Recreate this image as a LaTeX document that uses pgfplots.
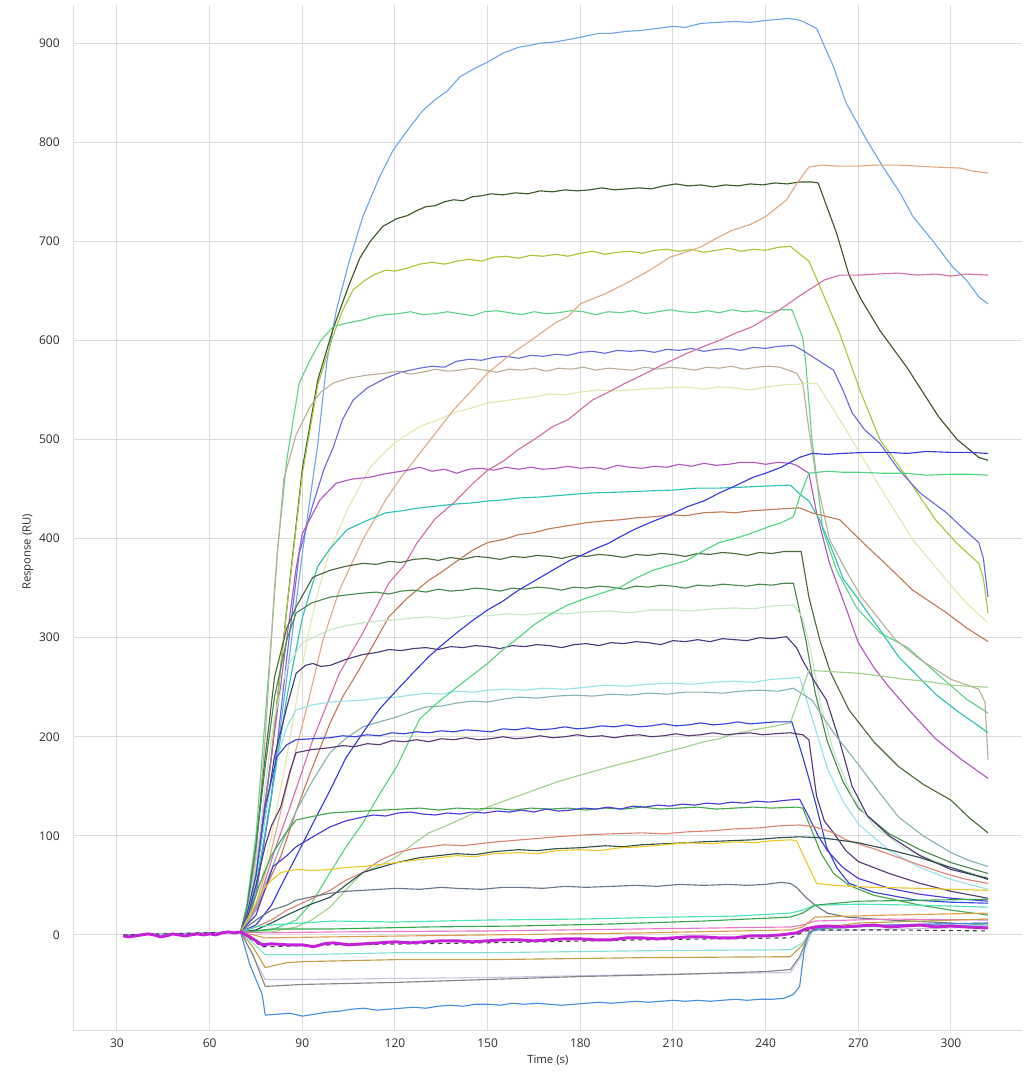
\documentclass[border=0pt]{standalone}
\usepackage{fontspec}
\setmainfont{Open Sans}
\usepackage{pgfplots}
\pgfplotsset{compat=1.18}
\definecolor{gridgray}{HTML}{DCDCDC}
\definecolor{labgray}{HTML}{303030}
\definecolor{cA}{HTML}{70A8EE}
\definecolor{cB}{HTML}{3E5A28}
\definecolor{cC}{HTML}{A8C838}
\definecolor{cD}{HTML}{62D48A}
\definecolor{cE}{HTML}{6B6BE8}
\definecolor{cF}{HTML}{BCB09A}
\definecolor{cG}{HTML}{E2E8AE}
\definecolor{cH}{HTML}{E4AA82}
\definecolor{cI}{HTML}{D86EAA}
\definecolor{cJ}{HTML}{B458C2}
\definecolor{cK}{HTML}{2CC4B4}
\definecolor{cL}{HTML}{C47C56}
\definecolor{cM}{HTML}{4E6A3C}
\definecolor{cN}{HTML}{4A8A50}
\definecolor{cO}{HTML}{C6E6C4}
\definecolor{cP}{HTML}{4E3A7E}
\definecolor{cQ}{HTML}{98E2EA}
\definecolor{cR}{HTML}{8AB4B4}
\definecolor{cS}{HTML}{A2D28E}
\definecolor{cT}{HTML}{52D682}
\definecolor{cU}{HTML}{3A3AE4}
\definecolor{cV}{HTML}{3444DC}
\definecolor{cW}{HTML}{5A3A78}
\definecolor{cX}{HTML}{44A84C}
\definecolor{cY}{HTML}{4A3ADC}
\definecolor{cZ}{HTML}{E08474}
\definecolor{da}{HTML}{2E5252}
\definecolor{db}{HTML}{F0C828}
\definecolor{dc}{HTML}{6A7888}
\definecolor{dd}{HTML}{4CE4B8}
\definecolor{de}{HTML}{38A850}
\definecolor{df}{HTML}{E878C8}
\definecolor{dg}{HTML}{D8A050}
\definecolor{dh}{HTML}{88E0D4}
\definecolor{di}{HTML}{C0A048}
\definecolor{dj}{HTML}{808888}
\definecolor{dk}{HTML}{C8C8E4}
\definecolor{dl}{HTML}{4A90E2}
\definecolor{dm}{HTML}{404040}
\definecolor{mag}{HTML}{C322D8}
\begin{document}
\begin{tikzpicture}
\begin{axis}[
 at={(0,0)}, anchor=south west,
 width=711.2pt, height=769.5pt, scale only axis,
 xmin=16, xmax=323, ymin=-97, ymax=938.6,
 xtick={30,60,...,300}, ytick={0,100,...,900},
 grid=major, major grid style={draw=gridgray, line width=0.75pt},
 axis x line*=bottom, axis y line*=left,
 axis line style={draw=gridgray, line width=0.75pt, -},
 major tick length=0pt,
 /pgf/number format/assume math mode=true,
 tick label style={font=\fontsize{9}{10}\selectfont, text=labgray},
 xticklabel style={yshift=-2.5pt},
 yticklabel style={xshift=-7pt},
 xlabel={Time (s)}, ylabel={Response (RU)},
 label style={font=\fontsize{8.5}{10}\selectfont, text=labgray},
 xlabel style={at={(axis description cs:0.5,-0.0283)}, anchor=center},
 ylabel style={at={(axis description cs:-0.0482,0.467)}, anchor=center},
 no markers,
 every axis plot/.append style={line width=0.85pt, line join=round},
 clip=true,
]
% large association curves
\addplot[cA] coordinates {(32,0)(70,3)(72,15)(75,45)(80,140)(85,260)(90,385)(95,495)(98,580)(101,630)(105,678)(109.6,725)(115,765)(119.4,792)(124,812)(129,832)(133,843)(137,852)(141,866)(146,875)(150,881)(155,890)(160,896)(164,898)(167,900)(171,901)(175,903)(180,906)(186,910)(190,910)(195,912)(200,913)(205,915)(210,917)(214,916)(219,920)(224,921)(230,922)(235,921)(240,923)(244,924)(247,925)(250,924)(252,922)(256.5,915)(262,876)(266,840)(272.8,802)(278,775)(283.5,749)(287.7,725)(294,701)(300.6,674)(305,661)(309,644)(312,637)};
\addplot[cB] coordinates {(70,3)(72,20)(75,60)(80,180)(85,330)(90,470)(95,560)(100,612)(105,655)(108.6,683)(112,700)(116,715)(120.6,723)(124,726)(127,731)(130,735)(133,736)(136,740)(139,742)(142,741)(145,745)(148,746)(151,748)(155,747)(159,749)(163,748)(167,751)(171,750)(175,752)(179,751)(183,752)(187,754)(191,752)(195,753)(199,754)(203,753)(207,756)(211,758)(215,756)(219,757)(223,755)(227,757)(231,756)(235,758)(239,757)(243,759)(247,758)(251,760)(255,760)(257,759)(263,708)(267,666)(271,641)(277,610)(285.7,573)(296,523)(302,500)(309,482)(312,479)};
\addplot[cC] coordinates {(70,3)(72,20)(75,60)(80,180)(85,330)(90,465)(95,555)(100,605)(103,630)(106.4,651)(110,660)(113,666)(117,671)(120,670)(124,673)(128,677)(132,679)(136,677)(140,680)(144,682)(148,680)(152,684)(156,685)(160,683)(164,686)(168,685)(172,687)(176,685)(180,688)(184,690)(188,687)(192,689)(196,690)(200,688)(204,691)(208,692)(212,690)(216,692)(220,689)(224,691)(228,693)(232,690)(236,692)(240,691)(244,694)(248,695)(250,690)(254,680)(257.5,655)(264,607)(270.5,550)(277,500)(285.7,462)(295,419)(302,395)(309,375)(310.5,360)(312,325)};
\addplot[cD] coordinates {(70,3)(72,30)(75,100)(78,220)(80,300)(82,389)(85,480)(89,557)(92.5,580)(96,600)(100,614)(105,618)(110,621)(113,624)(117,626)(121,627)(125,629)(129,626)(133,627)(137,629)(141,627)(145,625)(149,629)(153,630)(157,628)(161,626)(165,629)(169,627)(173,628)(177,630)(181,629)(185,626)(189,629)(193,628)(197,630)(201,627)(205,629)(209,631)(213,629)(217,628)(221,630)(225,628)(229,631)(233,629)(237,630)(241,628)(245,631)(248.5,631)(252,603)(253,577)(255,500)(258.5,409)(263,368)(269.5,330)(277,305)(286,290)(295,265)(305,238)(312,224)};
\addplot[cE] coordinates {(70,3)(75,40)(80,140)(85,280)(89,385)(93,430)(97,470)(100,492)(103,520)(106.5,540)(111,552)(117,562)(122,568)(128,572)(132,574)(136,573)(140,579)(144,581)(148,580)(152,583)(156,584)(160,582)(164,585)(168,584)(172,586)(176,585)(180,588)(184,589)(188,587)(192,590)(196,589)(200,590)(204,588)(208,591)(212,590)(216,592)(220,589)(224,591)(228,592)(232,590)(236,593)(240,592)(244,594)(249,595)(252,590)(257,580)(262,570)(265,550)(268,527)(272,510)(277,496)(283,470)(290,446)(298.6,426)(304,410)(309,396)(310.5,380)(312,341)};
\addplot[cF] coordinates {(70,3)(72,20)(75,80)(78,200)(81,350)(84,460)(88,505)(92.5,533)(96,548)(100,557)(105,562)(111,565)(117,567)(121,569)(125,566)(129,568)(133,571)(137,569)(141,570)(145,572)(149,570)(153,568)(157,571)(161,570)(165,572)(169,569)(173,572)(177,571)(181,573)(185,570)(189,572)(193,571)(197,570)(201,573)(205,571)(209,573)(213,572)(217,570)(221,573)(225,572)(229,574)(233,571)(237,573)(241,574)(244.6,573)(250,567)(252,557)(254,510)(256.5,459)(260.7,399)(266,368)(271,341)(282,298)(290,278)(300,258)(309,248)(311,235)(312,177)};
\addplot[cG] coordinates {(70,3)(75,30)(80,100)(85,180)(91.5,298)(95,345)(99,389)(105,432)(112,472)(116,485)(120,497)(124,505)(128,513)(134,520)(140,528)(145,532)(150,537)(155,539)(160,541)(165,543)(170,546)(175,545)(180,548)(186,550)(192,549)(200,551)(207,552)(214.5,553)(220,551)(225,553)(230,552)(235,550)(240,553)(245,555)(251,556)(256.5,557)(260,540)(266,510)(277,452)(287.6,399)(298.6,358)(305,335)(312,315)};
\addplot[cH] coordinates {(70,3)(75,30)(79.5,79)(86,163)(91.5,230)(96.7,298)(102,348)(109.6,399)(117,439)(122,462)(128,486)(133,506)(139,530)(145,550)(150,567)(157,585)(164,600)(172,618)(176,624)(180,637)(188,647)(195,658)(202,670)(209,684)(214,689)(218.7,694)(224,703)(229,711)(235,717)(240,725)(246.8,742)(250,758)(254,775)(258,777)(263,776)(270,776)(276,777)(283,777)(289,776)(295,775)(303,774)(307,771)(312,769)};
\addplot[cI] coordinates {(70,3)(73,15)(77,45)(81,85)(86,129)(93.4,197)(102,264)(109.6,305)(118,355)(123,373)(127,395)(133,420)(139,436)(145,455)(150,469)(155,478)(160,490)(166,502)(171,513)(176,520)(180,530)(184,540)(188.6,547)(194,556)(200,565)(207,576)(214.5,587)(220,594)(225,600)(230,607)(235.8,614)(240,622)(244.6,631)(251,645)(255,653)(259,661)(264,666)(270,666)(276,667)(283,668)(289,666)(295,667)(300,665)(305,667)(312,666)};
\addplot[cJ] coordinates {(70,3)(72,20)(75,70)(80,180)(85,300)(88,370)(90,405)(95.7,439)(101,456)(106,460)(112,462)(116,465)(120,467)(124,469)(128,472)(132,468)(136,470)(140,466)(144,470)(148,471)(152,469)(156,472)(160,470)(164,472)(168,470)(172,471)(176,473)(180,471)(184,472)(188,470)(192,474)(196,472)(200,471)(204,473)(208,472)(212,475)(216,473)(220,476)(224,474)(228,475)(232,477)(236,477)(240,475)(244,477)(248,476)(250,474)(254,466)(256.5,426)(260.7,375)(266,330)(270,295)(275,270)(280,250)(287,225)(295,198)(303,178)(312,158)};
\addplot[cK] coordinates {(70,3)(72,20)(75,50)(80,140)(85,240)(90,320)(95,372)(99,390)(104.5,409)(110,417)(117,426)(122,428)(128,431)(134,433)(140,435)(145,436)(150,438)(155,439)(160,441)(167,442)(175,444)(183,446)(193,447)(201,448)(210,449)(218,451)(225,451)(233,452)(240,453)(248,454)(251,445)(254,438)(257.5,419)(262,385)(265,360)(269.5,341)(277,308)(283,281)(289,262)(295,243)(302,226)(308,213)(312,204)};
\addplot[cL] coordinates {(70,3)(75,25)(80,60)(83,79)(88,125)(92.5,163)(99,214)(103,240)(107.7,264)(113,293)(118,321)(124,340)(131,358)(135,366)(139,375)(145,388)(150,396)(155,399)(160,404)(165,406)(170,410)(176,413)(182,416)(188,418)(193,419)(198,421)(203.5,422)(210,424)(214,423)(219.6,426)(226,427)(230,426)(235,428)(240,429)(245,430)(251,431)(255,426)(264,419)(271.5,396)(280,371)(287.6,348)(298.6,325)(305,310)(312,296)};
\addplot[cM] coordinates {(70,3)(72,25)(75,90)(78,180)(81,260)(85,310)(88,331)(93.4,361)(99,368)(104,372)(109.6,375)(114,374)(118,377)(122,376)(126,379)(130,380)(134,378)(138,381)(142,379)(146,382)(150,381)(154,379)(158,382)(162,381)(166,383)(170,382)(174,380)(178,383)(182,382)(186,384)(190,383)(194,381)(198,384)(202,383)(206,385)(210,384)(214,382)(218,385)(222,384)(226,386)(230,385)(234,383)(238,386)(242,385)(246,387)(251.5,387)(254,341)(257.5,298)(261,265)(267,227)(275,195)(283,170)(291,152)(300,136)(306,118)(312,103)};
\addplot[cN] coordinates {(70,3)(72,25)(75,90)(78,170)(81,240)(85,298)(88,325)(93,335)(99,341)(104,343)(109.6,345)(114,346)(118,344)(122,347)(126,348)(130,346)(134,349)(138,347)(142,348)(146,350)(150,349)(154,347)(158,350)(162,349)(166,351)(170,350)(174,348)(178,351)(182,350)(186,352)(190,351)(194,349)(198,352)(202,351)(206,353)(210,352)(214,350)(218,353)(222,352)(226,354)(230,353)(234,352)(238,354)(242,353)(246,355)(249,355)(253,298)(256,245)(260,195)(265,155)(270,128)(280,102)(290,86)(300,73)(312,62)};
\addplot[cO] coordinates {(70,3)(72,20)(75,70)(78,150)(81,220)(85,270)(90,295)(99,308)(104,312)(110,315)(115,317)(120.6,318)(126,320)(131,321)(137,319)(143,322)(150,322)(156,324)(162,323)(168,325)(175,324)(182,326)(190,327)(196,325)(203,328)(210,328)(216,327)(223,329)(230,330)(236,329)(242,332)(249,333)(252,320)(255,280)(258,230)(262,185)(268,140)(275,110)(285,87)(300,68)(312,58)};
\addplot[cP] coordinates {(70,3)(72,15)(75,60)(78,120)(81,180)(85,230)(88,264)(91,272)(93.4,274)(96,271)(99,272)(104,278)(109.6,283)(114,285)(118,288)(122,287)(126,289)(130,290)(134,288)(138,291)(142,290)(146,292)(150,291)(154,289)(158,292)(162,291)(166,293)(170,292)(174,290)(178,293)(182,294)(186,292)(190,295)(194,294)(198,296)(202,295)(206,293)(210,297)(214,296)(218,298)(222,296)(226,299)(230,298)(234,297)(238,300)(242,299)(246.8,301)(250,290)(252,277)(256,255)(259.7,237)(264,195)(268,150)(273,120)(280,100)(290,80)(300,66)(312,57)};
\addplot[cQ] coordinates {(70,3)(72,15)(75,60)(78,120)(81,170)(85,210)(88,227)(93,232)(99,235)(104,236)(109.6,237)(115,239)(120.6,240)(125,242)(130,244)(135,243)(140,246)(145,245)(150,247)(156,248)(162,247)(168,249)(175,248)(182,250)(188,252)(195,251)(202,253)(210,254)(216,253)(223,255)(230,256)(236,255)(242,258)(248,259)(251,260)(253,240)(256.5,204)(260,168)(265,135)(270,112)(280,85)(290,68)(300,56)(312,46)};
\addplot[cR] coordinates {(70,3)(74,20)(78,50)(83,90)(88,125)(93.4,156)(99,184)(104,198)(109.6,210)(115,215)(120.6,220)(125,225)(130,230)(135,231)(140,234)(145,236)(150,235)(155,238)(160,240)(166,239)(172,241)(178,242)(184,241)(190,243)(196,242)(202,244)(208,243)(214,245)(220,245)(226,244)(232,246)(238,247)(244,246)(249,249)(255,237)(262,204)(270.5,170)(277,143)(283,119)(291,100)(300,83)(306,75)(312,69)};
\addplot[cS] coordinates {(70,3)(80,3)(88,8)(93,15)(99,28)(104,45)(109.6,63)(115,70)(120.6,79)(126,92)(131,103)(135,108)(140,115)(145,122)(150,129)(157,137)(165,146)(173,155)(182,163)(190,170)(200,178)(207,184)(214.5,190)(220,195)(225,198)(230,203)(236,207)(240,209)(245,212)(248,214)(251,240)(254,267)(260,266)(265,265)(270.5,264)(278,261)(285,258)(292,256)(300,252)(306,251)(312,250)};
\addplot[cT] coordinates {(70,3)(80,5)(88,15)(93,32)(99,63)(104,88)(109.6,113)(115,142)(120.6,170)(128,218)(134,235)(140,250)(145,262)(150,274)(155,288)(160,300)(165,313)(171,325)(176,333)(182,340)(188,346)(193,351)(198,360)(203.5,368)(209,373)(214.5,378)(220,388)(225,396)(230,400)(235,405)(241,412)(245,416)(249,422)(251,442)(254,466)(260,468)(265,467)(270,467)(278,466)(285,466)(292,464)(300,465)(306,465)(312,464)};
\addplot[cU] coordinates {(70,3)(75,10)(80,30)(84,55)(88,79)(93,110)(99,146)(104,178)(109.6,204)(115,228)(120.6,247)(126,265)(131,281)(135,292)(140,305)(145,317)(150,328)(155,337)(160,348)(165,357)(171,368)(176.6,378)(181,384)(185,390)(189,395)(193,402)(198,410)(204,418)(209,424)(214.5,432)(220,438)(225,446)(230,453)(236,462)(240,466)(245,472)(248,477)(251,482)(255,486)(260,485)(265,486)(272,487)(280,487)(286,486)(292,488)(300,487)(306,487)(312,486)};
% lower curves
\addplot[cV] coordinates {(70,3)(72,20)(75,60)(78,130)(81.8,180)(85,192)(88,197)(99,199)(103,201)(107,200)(111,202)(115,201)(119,204)(123,203)(127,205)(131,204)(135,206)(139,205)(143,207)(147,206)(151,205)(155,208)(159,207)(163,209)(167,207)(171,208)(175,210)(179,208)(183,209)(187,211)(191,210)(195,212)(199,210)(203,211)(207,213)(211,211)(215,212)(219,214)(223,212)(227,213)(231,215)(235,213)(239,214)(243,215)(248.5,215)(250,200)(252,180)(254,158)(256.5,129)(259.7,89)(263,68)(267,52)(275,43)(289,35)(300,33)(312,32)};
\addplot[cW] coordinates {(70,3)(72,15)(75,50)(78,90)(80,110)(83,129)(86,165)(88,184)(93,187)(99,189)(103,191)(107,190)(111,193)(115,192)(119,196)(123,195)(127,197)(131,195)(135,198)(139,197)(143,199)(147,197)(151,198)(155,200)(159,198)(163,199)(167,201)(171,199)(175,200)(179,202)(183,200)(187,201)(191,199)(195,201)(199,202)(203,200)(207,201)(211,203)(215,201)(219,202)(223,204)(227,202)(231,203)(235,204)(239,202)(243,203)(248,204)(252,202)(254,197)(256.5,140)(259,115)(262,103)(266,85)(270,74)(280,62)(290,52)(300,44)(312,37)};
\addplot[cX] coordinates {(70,3)(73,20)(76,50)(80,80)(84,100)(88,116)(94,120)(99,123)(104,124)(110,125)(116,126)(122,127)(128,128)(134,126)(140,128)(146,127)(152,128)(158,126)(164,128)(170,127)(176,128)(182,126)(188,128)(194,127)(200,129)(206,127)(212,128)(218,129)(224,127)(230,128)(236,129)(242,128)(250,129)(252,128)(255,105)(258,82)(262,62)(267,50)(275,40)(290,30)(300,25)(312,20)};
\addplot[cY] coordinates {(70,3)(75,20)(80.5,69)(85,80)(88,89)(94,100)(99,109)(104,115)(109.6,119)(113,121)(117,120)(121,123)(125,124)(129,122)(133,121)(137,123)(141,122)(145,124)(149,123)(153,125)(157,124)(161,126)(165,124)(169,127)(173,125)(177,126)(181,128)(185,127)(189,129)(193,127)(197,130)(201,129)(205,131)(209,130)(213,132)(217,131)(221,133)(225,132)(229,134)(233,133)(237,135)(241,134)(247,136)(251,137)(254,119)(257,100)(260,85)(265,68)(270,57)(280,47)(290,41)(300,37)(312,34)};
\addplot[cZ] coordinates {(70,3)(75,8)(80,15)(85,25)(92,35)(99,45)(104,55)(109.6,63)(115,75)(120.6,83)(126,87)(131,89)(136,91)(142,90)(150,93)(157,95)(165,97)(172,99)(182,101)(190,102)(200,103)(207,102)(214.5,104)(222,105)(230,107)(238,108)(244,110)(251,111)(256,109)(262,103)(266,96)(275,87)(287.6,73)(298,62)(305,56)(312,52)};
\addplot[da] coordinates {(70,3)(75,5)(80,12)(85,20)(92,30)(99,38)(104,50)(109.6,63)(115,68)(120.6,73)(128,78)(134,80)(140,82)(146,81)(152,84)(160,86)(166,85)(172,87)(180,88)(188,90)(194,89)(200,91)(207,92)(214,93)(220,94)(228,95)(236,96)(244,98)(251,99)(258,98)(263,96)(270,93)(280,86)(290,78)(300,68)(312,56)};
\addplot[db] coordinates {(70,3)(73,20)(77,45)(80,55)(83,63)(88,66)(94,65)(99,66)(104,68)(109.6,69)(115,71)(120.6,73)(128,76)(134,78)(140,80)(146,79)(152,82)(160,83)(166,82)(172,85)(180,86)(186,85)(193,88)(200,89)(207,91)(214.5,93)(222,92)(230,94)(236,93)(242,95)(248,96)(250,95)(253,75)(256.5,52)(262,50)(275,48)(290,47)(300,46)(312,45)};
\addplot[dc] coordinates {(70,3)(75,15)(80,25)(85,30)(88,35)(94,39)(99,42)(104,44)(110,45)(115,46)(120.6,47)(128,46)(135,48)(140,47)(148,46)(155,48)(160,48)(168,47)(175,49)(182,48)(190,49)(198,50)(205,49)(212,51)(220,50)(228,51)(234,50)(240,51)(245,53)(248,52)(250,48)(253,38)(256,30)(260,22)(266,18)(280,15)(300,12)(312,10)};
% near-zero curves
\addplot[dd] coordinates {(70,3)(75,8)(80,10)(90,12)(100,14)(120,13)(150,15)(180,16)(210,18)(230,19)(248,22)(252,25)(256,30)(270,31)(290,30)(312,28)};
\addplot[de] coordinates {(70,3)(75,4)(80,6)(100,6)(130,8)(160,9)(190,11)(220,14)(248,18)(252,22)(256,30)(270,34)(290,35)(312,36)};
\addplot[df] coordinates {(70,3)(78,2)(100,3)(150,4)(200,6)(248,8)(252,10)(256,14)(280,16)(312,15)};
\addplot[dg] coordinates {(70,3)(78,-3)(100,-2)(150,0)(200,2)(248,5)(252,8)(256,18)(280,20)(312,22)};
\addplot[dh] coordinates {(70,3)(74,-8)(78,-20)(90,-20)(120,-18)(150,-18)(200,-16)(248,-15)(252,-8)(255,5)(270,8)(312,10)};
\addplot[di] coordinates {(70,3)(74,-12)(78,-33)(85,-28)(90,-27)(120,-25)(150,-25)(200,-23)(248,-22)(252,-10)(255,6)(270,12)(312,16)};
\addplot[dk] coordinates {(70,3)(78,-45)(90,-45)(120,-44)(150,-43)(200,-40)(248,-38)(252,-20)(255,4)(312,8)};
\addplot[dj] coordinates {(70,3)(74,-20)(78,-52)(90,-50)(120,-48)(150,-45)(180,-42)(210,-40)(240,-37)(248,-35)(251,-22)(254,0)(256,6)(280,10)(312,12)};
\addplot[dm, dashed] coordinates {(32,0)(70,3)(77,-12)(100,-10)(150,-8)(200,-5)(248,-3)(253,4)(256,5)(280,5)(312,4)};
\addplot[dl] coordinates {(70,3)(73,-30)(77,-60)(78,-81)(82,-80)(86,-79)(90,-82)(94,-80)(98,-78)(102,-77)(106,-75)(110,-74)(114,-76)(118,-75)(122,-74)(126,-73)(130,-74)(134,-72)(138,-71)(142,-72)(146,-70)(150,-70)(154,-71)(158,-69)(162,-70)(166,-69)(170,-70)(174,-71)(178,-70)(182,-69)(186,-68)(190,-69)(194,-68)(198,-67)(202,-68)(206,-67)(210,-66)(214,-67)(218,-66)(222,-67)(226,-66)(230,-65)(234,-66)(238,-65)(242,-65)(246,-64)(249,-60)(251,-52)(252.5,-15)(254,3)(260,8)(280,10)(312,12)};
\addplot[mag, line width=2.2pt] coordinates {(32,-1)(34,-2)(36,-1)(38,0)(40,1)(42,0)(44,-2)(46,-1)(48,1)(50,0)(52,-1)(54,0)(56,1)(58,0)(60,1)(62,0)(64,2)(66,3)(68,2)(70,3)(73,-2)(77,-10)(80,-9)(85,-10)(90,-10)(93.7,-12)(97,-9)(100,-8)(105,-10)(110,-9)(115,-8)(120,-7)(125,-8)(130,-7)(135,-6)(140,-6)(145,-7)(150,-6)(155,-5)(160,-5)(165,-6)(170,-5)(175,-4)(180,-4)(185,-5)(190,-5)(195,-3)(200,-3)(205,-4)(210,-3)(215,-2)(220,-2)(225,-3)(230,-3)(235,-1)(240,-1)(245,0)(250,2)(253,6)(256,8)(260,9)(265,8)(270,9)(275,10)(280,8)(285,9)(290,10)(295,8)(300,9)(305,8)(312,7)};
\end{axis}
\pgfresetboundingbox
\path[use as bounding box] (-55.3pt,-30pt) rectangle (712pt,773.25pt);
\end{tikzpicture}
\end{document}
